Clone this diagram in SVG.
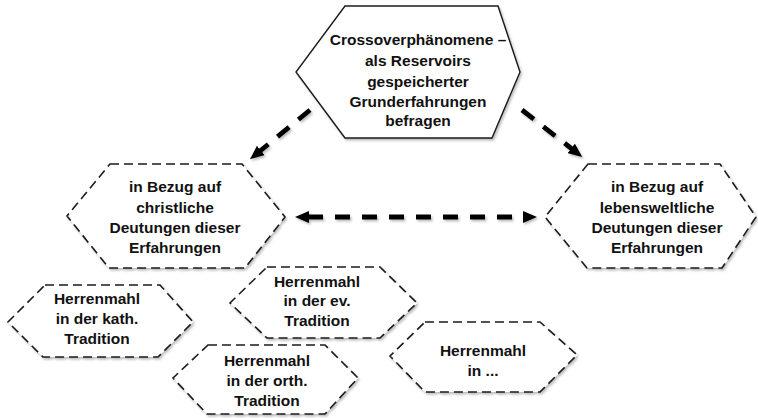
<svg xmlns="http://www.w3.org/2000/svg" width="758" height="418" viewBox="0 0 758 418">
<style>
.hex{fill:#fff;stroke:#1a1a1a;stroke-width:1.6;stroke-dasharray:9 5;filter:url(#sh)}
.main{fill:#fff;stroke:#1a1a1a;stroke-width:1.4;filter:url(#sh)}
.t{font-family:"Liberation Sans",Arial,sans-serif;font-weight:bold;font-size:15.5px;fill:#111;text-anchor:middle;dominant-baseline:central}
.a{fill:none;stroke:#000;stroke-width:4.8;stroke-dasharray:15 12}
</style>
<defs>
<filter id="sh" x="-10%" y="-20%" width="120%" height="140%">
<feDropShadow dx="1.5" dy="2" stdDeviation="1.2" flood-color="#000" flood-opacity="0.25"/>
</filter>
<filter id="sha" filterUnits="userSpaceOnUse" x="0" y="0" width="758" height="418">
<feDropShadow dx="1.5" dy="2" stdDeviation="1.2" flood-color="#000" flood-opacity="0.25"/>
</filter>
<marker id="ah" viewBox="0 0 14 12" refX="1" refY="6" markerWidth="14" markerHeight="12" markerUnits="userSpaceOnUse" orient="auto-start-reverse">
<path d="M0,0 L14,6 L0,12 z" fill="#000"/>
</marker>
</defs>
<g id="connectors" filter="url(#sha)">
<line class="a" x1="310" y1="110" x2="260" y2="151" marker-end="url(#ah)"/>
<line class="a" x1="522" y1="110" x2="572" y2="149" marker-end="url(#ah)"/>
<line class="a" x1="308" y1="217" x2="524" y2="217" marker-start="url(#ah)" marker-end="url(#ah)"/>
</g>
<g id="node-main">
<polygon class="main" points="345,6 498,6 520,72 492,138 345,138 296,72"/>
<text class="t" x="418" y="39">Crossoverphänomene –</text>
<text class="t" x="418" y="60">als Reservoirs</text>
<text class="t" x="418" y="81">gespeicherter</text>
<text class="t" x="418" y="101">Grunderfahrungen</text>
<text class="t" x="418" y="120">befragen</text>
</g>
<g id="node-christlich">
<polygon class="hex" points="110,164 242,164 285,217 245,268 109,268 67,216"/>
<text class="t" x="175" y="186">in Bezug auf</text>
<text class="t" x="175" y="207">christliche</text>
<text class="t" x="175" y="227">Deutungen dieser</text>
<text class="t" x="175" y="247">Erfahrungen</text>
</g>
<g id="node-lebensweltlich">
<polygon class="hex" points="588,164 720,164 756,217 722,268 587,268 545,217"/>
<text class="t" x="657" y="186">in Bezug auf</text>
<text class="t" x="657" y="207">lebensweltliche</text>
<text class="t" x="657" y="227">Deutungen dieser</text>
<text class="t" x="657" y="247">Erfahrungen</text>
</g>
<g id="node-kath">
<polygon class="hex" points="45,285 160,285 193,322 158,357 43,357 8,322"/>
<text class="t" x="97" y="298">Herrenmahl</text>
<text class="t" x="97" y="318">in der kath.</text>
<text class="t" x="97" y="338">Tradition</text>
</g>
<g id="node-ev">
<polygon class="hex" points="267,267 380,267 417,303 380,338 267,338 230,303"/>
<text class="t" x="317" y="281">Herrenmahl</text>
<text class="t" x="317" y="300">in der ev.</text>
<text class="t" x="317" y="320">Tradition</text>
</g>
<g id="node-orth">
<polygon class="hex" points="208,345 325,345 358,378 325,414 207,414 173,378"/>
<text class="t" x="267" y="360">Herrenmahl</text>
<text class="t" x="267" y="380">in der orth.</text>
<text class="t" x="267" y="400">Tradition</text>
</g>
<g id="node-andere">
<polygon class="hex" points="425,322 540,322 577,355 540,392 425,392 390,356"/>
<text class="t" x="483" y="350">Herrenmahl</text>
<text class="t" x="483" y="370">in ...</text>
</g>
</svg>
